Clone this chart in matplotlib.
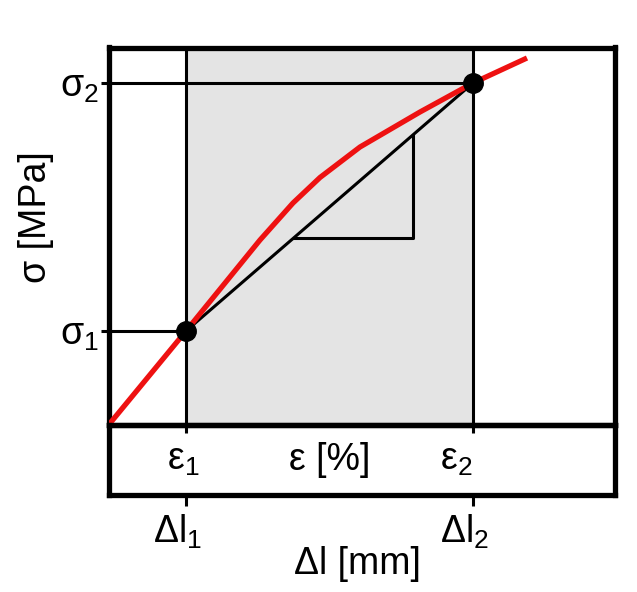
"""Schematic secant-modulus sketch: stress-strain curve with secant between two points."""

import matplotlib

matplotlib.use("Agg")
import matplotlib.pyplot as plt  # noqa: E402
import numpy as np  # noqa: E402

plt.rcParams["font.family"] = ["Liberation Sans", "DejaVu Sans"]

# schematic curve (strain in %, stress in MPa, arbitrary units)
curve_strain = [0.0, 0.77, 1.51, 1.84, 2.11, 2.51, 3.11, 3.64, 4.18]
curve_stress = [0.0, 0.935, 1.845, 2.215, 2.47, 2.775, 3.125, 3.415, 3.665]

# the two points defining the secant
eps_pts = [0.77, 3.64]
sig_pts = [0.935, 3.415]
triangle_strain = [1.85, 3.04]

eps_labels = [r"$\mathregular{ε_1}$", r"$\mathregular{ε_2}$"]
sig_labels = [r"$\mathregular{σ_1}$", r"$\mathregular{σ_2}$"]
dl_labels = [r"$\mathregular{Δl_1}$", r"$\mathregular{Δl_2}$"]

xmax, ymax = 5.06, 3.77
FS = 27
RED = "#ee1111"
GREY = "#e4e4e4"

fig = plt.figure(figsize=(6.37, 5.92), dpi=100)
ax = fig.add_axes([109 / 637, 1 - 424.5 / 592, 506 / 637, 377 / 592])
ax2 = fig.add_axes([109 / 637, 1 - 495 / 592, 506 / 637, 70.5 / 592], sharex=ax)

ax.set_xlim(0, xmax)
ax.set_ylim(0, ymax)

# shaded interval between the two strains
ax.axvspan(eps_pts[0], eps_pts[1], color=GREY, lw=0, zorder=0)
for e in eps_pts:
    ax.axvline(e, color="black", lw=2.2, zorder=1)
for e, s in zip(eps_pts, sig_pts):
    ax.plot([0, e], [s, s], color="black", lw=2.2, zorder=1)

# secant line and slope triangle
slope = (sig_pts[1] - sig_pts[0]) / (eps_pts[1] - eps_pts[0])
sec = lambda x: sig_pts[0] + slope * (np.asarray(x) - eps_pts[0])
ax.plot(eps_pts, sig_pts, color="black", lw=2.2, zorder=3)
t0, t1 = triangle_strain
ax.plot([t0, t1, t1], [sec(t0), sec(t0), sec(t1)], color="black", lw=2.2, zorder=3)

# curve
ax.plot(curve_strain, curve_stress, color=RED, lw=3.8, solid_capstyle="butt", zorder=4)
ax.plot(eps_pts, sig_pts, "o", color="black", ms=14, zorder=5)

for a in (ax, ax2):
    for sp in a.spines.values():
        sp.set_linewidth(3.8)

ax.set_xticks(eps_pts)
ax.set_xticklabels([])
ax.tick_params(axis="x", direction="out", length=6, width=2.2)
ax.set_yticks(sig_pts)
ax.set_yticklabels(sig_labels, fontsize=FS)
ax.tick_params(axis="y", direction="out", length=6, width=2.2, pad=1)
ax.set_ylabel("σ [MPa]", fontsize=FS)
ax.yaxis.set_label_coords(-0.108, 0.55)

ax2.patch.set_visible(False)
ax2.set_ylim(0, 1)
ax2.set_yticks([])
ax2.tick_params(axis="x", direction="out", length=8, width=2.2, labelbottom=False)
ax2.annotate(eps_labels[0], (eps_pts[0], 0.5), xytext=(-2, 0), textcoords="offset points",
             ha="center", va="center", fontsize=FS)
ax2.annotate(eps_labels[1], (eps_pts[1], 0.5), xytext=(-12, 0), textcoords="offset points",
             ha="center", va="center", fontsize=FS)
ax2.text(np.mean(eps_pts), 0.5, "ε [%]", ha="center", va="center", fontsize=FS)
for e, lab in zip(eps_pts, dl_labels):
    ax2.annotate(lab, (e, 0), xytext=(-6, -13), textcoords="offset points",
                 ha="center", va="top", fontsize=FS)
ax2.text(0.49, -0.72, "Δl [mm]", transform=ax2.transAxes, ha="center", va="top", fontsize=FS)

fig.savefig("out.png", dpi=100)
